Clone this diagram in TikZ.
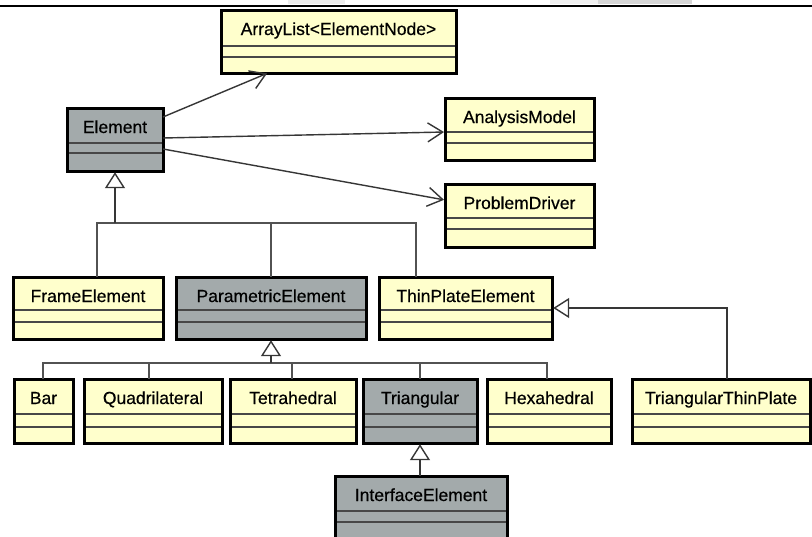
\documentclass[tikz,border=0pt]{standalone}
\usepackage{fontspec}
\setmainfont{Liberation Sans}
\newfontfamily\umlfont{Liberation Sans}[FakeBold=0.45]
\usetikzlibrary{arrows.meta,calc}
\definecolor{umlyel}{HTML}{FFFFCC}
\definecolor{umlgry}{HTML}{A3AAAB}
\definecolor{conn}{HTML}{363636}
\tikzset{
  ybox/.style={draw=black, line width=3pt, fill=umlyel, rectangle, inner sep=0pt, outer sep=0pt, anchor=north west},
  gbox/.style={ybox, fill=umlgry},
  sepline/.style={draw=black!72, line width=1.4pt},
  clstitle/.style={anchor=base, font=\umlfont\fontsize{17.5}{20}\selectfont, inner sep=0pt, text=black},
  assocarrow/.style={draw=conn, line width=1.4pt, shorten >=1pt, -{Straight Barb[length=15pt,width=19pt,line width=1.4pt]}},
  genarrow/.style={draw=conn, line width=1.4pt, shorten >=1.2pt, -{Triangle[open,fill=white,length=16pt,width=20pt,line width=1.4pt]}},
  treeline/.style={draw=black!68, line width=1.2pt},
}
\newcommand{\umlbox}[9]{%
  \node[#2, minimum width={(#5)-(#3)}, minimum height={(#6)-(#4)}] (#1) at (#3,#4) {};
  \draw[sepline] (#3,#7) -- (#5,#7) (#3,#8) -- (#5,#8);
  \draw[black, line width=3pt] (#1.north west) rectangle (#1.south east);
  \node[clstitle] (#1t) at ({((#3)+(#5))/2},{(#4)+25}) {#9};
}
\begin{document}
\begin{tikzpicture}[x=1pt,y=-1pt]
\useasboundingbox (0,0) rectangle (812,536);
\clip (0,0) rectangle (812,536);
\fill[white] (0,0) rectangle (812,536);
% residue of the screenshot above the top rule
\fill[gray!14] (288,0) rectangle (345,4);
\fill[gray!32] (598,0) rectangle (692,4);
\fill[gray!12] (550,0) rectangle (598,4);
\draw[black, line width=2pt] (0,6) -- (812,6);

% row 0 / 1
\umlbox{al}{ybox}{221}{10}{456}{73}{46}{57}{ArrayList<ElementNode>}
\umlbox{el}{gbox}{67}{108}{163}{171}{143}{153}{Element}
\umlbox{am}{ybox}{445}{98}{594}{160}{132}{143}{AnalysisModel}
\umlbox{pd}{ybox}{445}{184}{594}{247}{218}{229}{ProblemDriver}

% row 2
\umlbox{fe}{ybox}{13}{277}{163}{339}{310}{322}{FrameElement}
\umlbox{pe}{gbox}{176}{277}{366}{339}{310}{322}{ParametricElement}
\umlbox{tp}{ybox}{379}{277}{552}{339}{310}{322}{ThinPlateElement}

% row 3
\umlbox{bar}{ybox}{14}{379}{73}{443}{414}{427}{Bar}
\umlbox{qu}{ybox}{84}{379}{222}{443}{414}{427}{Quadrilateral}
\umlbox{te}{ybox}{230}{379}{356}{443}{414}{427}{Tetrahedral}
\umlbox{tr}{gbox}{363}{379}{477}{443}{414}{427}{Triangular}
\umlbox{hx}{ybox}{487}{379}{611}{443}{414}{427}{Hexahedral}
\umlbox{ttp}{ybox}{632}{379}{810}{443}{414}{427}{TriangularThinPlate}

% row 4
\umlbox{ie}{gbox}{335}{476}{507}{548}{511}{522}{InterfaceElement}

% associations
\draw[assocarrow] ($(el.north east)+(0,9)$) -- ($(al.south west)+(47,0)$);
\draw[assocarrow] ($(el.north east)+(0,30)$) -- ($(am.north west)+(0,34)$);
\draw[assocarrow] ($(el.north east)+(0,41)$) -- ($(pd.north west)+(0,16)$);

% generalization: Element
\coordinate (j1) at ($(el.south)+(0,52)$);
\draw[treeline] ($(fe.north west)+(84,0)$) |- ($(tp.north west)+(37,-54)$) -- ($(tp.north west)+(37,0)$);
\draw[treeline] ($(pe.north west)+(95,0)$) -- ($(pe.north west)+(95,-54)$);
\draw[genarrow] (j1) -- (el.south);

% generalization: ParametricElement
\coordinate (j2) at ($(pe.south)+(0,24)$);
\draw[treeline] ($(bar.north west)+(29,0)$) |- ($(hx.north west)+(60,-16)$) -- ($(hx.north west)+(60,0)$);
\draw[treeline] ($(qu.north west)+(65,0)$) -- ($(qu.north west)+(65,-16)$);
\draw[treeline] ($(te.north west)+(62,0)$) -- ($(te.north west)+(62,-16)$);
\draw[treeline] ($(tr.north west)+(57,0)$) -- ($(tr.north west)+(57,-16)$);
\draw[genarrow] (j2) -- (pe.south);

% generalization: ThinPlateElement
\draw[genarrow] ($(ttp.north west)+(95,0)$) |- ($(tp.north east)+(0,31)$);

% generalization: Triangular
\draw[genarrow] ($(ie.north west)+(85,0)$) -- ($(tr.south west)+(57,0)$);
\end{tikzpicture}
\end{document}
